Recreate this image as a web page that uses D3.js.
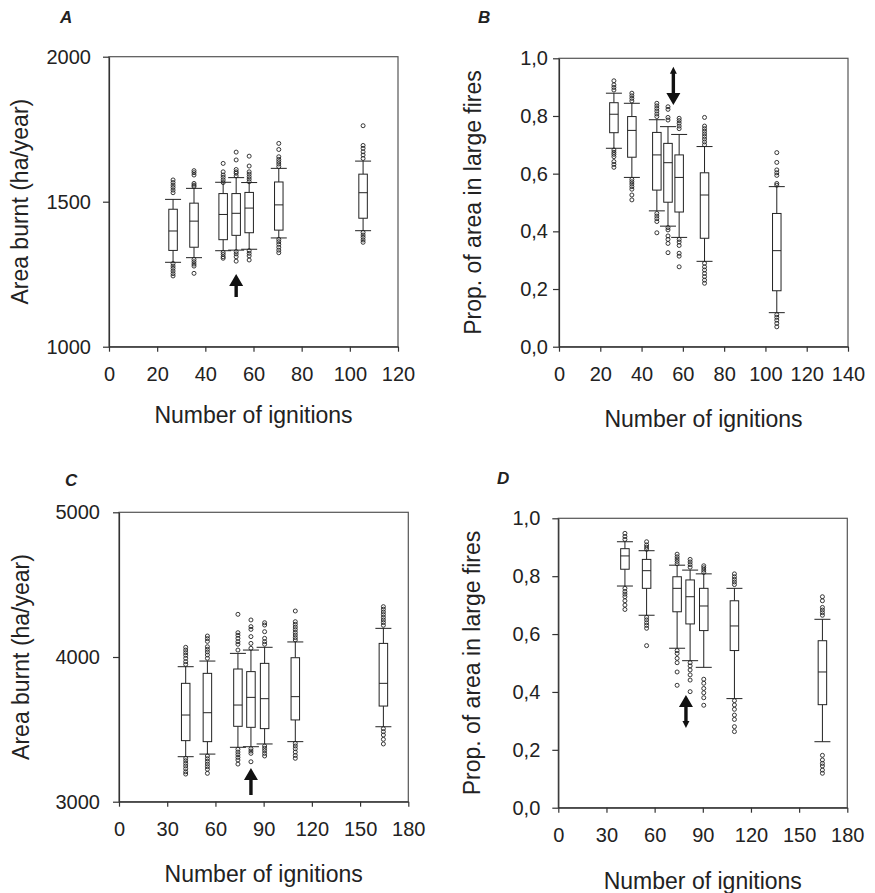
<!DOCTYPE html>
<html>
  <head>
    <meta charset="utf-8">
    <title>Ignitions box plots</title>
    <script src="https://cdnjs.cloudflare.com/ajax/libs/d3/7.8.5/d3.min.js" charset="utf-8"></script>
    <style>
      body { margin: 0; background: #fff; }
      text { font-family: "Liberation Sans", Arial, sans-serif; fill: #222; }
    </style>
  </head>
  <body>
    <div id="chart"></div>
    <script>

// number of ignitions (box positions)
var ignAB = [26.6, 35.3, 47.4, 52.8, 58.2, 70.5, 105.5];
var ignCD = [41.5, 55.0, 74.0, 82.1, 90.6, 109.7, 164.5];

// A: area burnt
var aLow  = [1291, 1307, 1331, 1333, 1336, 1375, 1400];
var aQ1   = [1332, 1343, 1369, 1384, 1393, 1402, 1443];
var aMed  = [1399, 1433, 1456, 1460, 1478, 1489, 1531];
var aQ3   = [1474, 1495, 1528, 1528, 1532, 1568, 1595];
var aHigh = [1508, 1546, 1567, 1583, 1566, 1615, 1640];
var aOutHi = [
  [1575, 1566, 1557, 1549, 1540, 1531],
  [1607, 1600, 1592, 1563, 1557, 1552],
  [1632, 1603, 1592, 1584, 1575, 1566],
  [1671, 1644, 1611, 1603, 1598, 1589],
  [1657, 1623, 1603, 1595, 1586, 1578, 1569],
  [1701, 1680, 1655, 1646, 1638, 1630, 1621],
  [1762, 1694, 1684, 1672, 1661, 1649]
];
var aOutLo = [
  [1287, 1278, 1270, 1261, 1252, 1244],
  [1301, 1293, 1285, 1278, 1253],
  [1325, 1318, 1310, 1305],
  [1328, 1320, 1310, 1295],
  [1331, 1322, 1313, 1299],
  [1370, 1362, 1353, 1343, 1333, 1324],
  [1394, 1385, 1377, 1368, 1360]
];

// B: proportion in large fires
var bLow  = [0.688, 0.587, 0.471, 0.418, 0.379, 0.296, 0.118];
var bQ1   = [0.742, 0.657, 0.543, 0.501, 0.467, 0.376, 0.194];
var bMed  = [0.806, 0.750, 0.665, 0.638, 0.587, 0.526, 0.333];
var bQ3   = [0.846, 0.798, 0.743, 0.705, 0.665, 0.603, 0.462];
var bHigh = [0.879, 0.844, 0.787, 0.763, 0.736, 0.694, 0.555];
var bOutHi = [
  [0.922, 0.908, 0.899, 0.890],
  [0.879, 0.870, 0.861, 0.852],
  [0.844, 0.835, 0.826, 0.817, 0.807, 0.798],
  [0.832, 0.823, 0.795, 0.786],
  [0.792, 0.784, 0.775, 0.765, 0.756],
  [0.795, 0.765, 0.756, 0.747, 0.738, 0.729, 0.720, 0.710, 0.700],
  [0.673, 0.639, 0.613, 0.603, 0.594, 0.566, 0.560]
];
var bOutLo = [
  [0.682, 0.674, 0.667, 0.659, 0.642, 0.632, 0.622],
  [0.580, 0.572, 0.564, 0.555, 0.546, 0.526, 0.509],
  [0.462, 0.453, 0.444, 0.434, 0.395],
  [0.413, 0.405, 0.384, 0.372, 0.358, 0.326],
  [0.372, 0.363, 0.351, 0.324, 0.314, 0.277],
  [0.289, 0.277, 0.266, 0.254, 0.243, 0.231, 0.220],
  [0.111, 0.102, 0.092, 0.081, 0.069]
];

// C: area burnt
var cLow  = [3311, 3329, 3376, 3380, 3399, 3415, 3518];
var cQ1   = [3422, 3415, 3521, 3514, 3505, 3565, 3661];
var cMed  = [3599, 3615, 3668, 3721, 3712, 3726, 3818];
var cQ3   = [3818, 3887, 3917, 3899, 3956, 3995, 4094];
var cHigh = [3933, 3972, 4025, 4048, 4067, 4104, 4198];
var cOutHi = [
  [4067, 4048, 4030, 4012, 3991, 3968, 3949],
  [4145, 4127, 4108, 4071, 4053, 4035, 4014, 3991],
  [4295, 4168, 4150, 4129, 4106, 4088, 4048],
  [4256, 4210, 4191, 4141, 4094, 4060],
  [4237, 4221, 4175, 4129, 4106, 4088],
  [4318, 4244, 4226, 4207, 4189, 4170, 4152, 4134, 4118],
  [4348, 4330, 4311, 4293, 4274, 4256, 4238, 4219]
];
var cOutLo = [
  [3300, 3283, 3265, 3247, 3228, 3207, 3191],
  [3316, 3297, 3279, 3260, 3242, 3224, 3196],
  [3362, 3343, 3325, 3306, 3288, 3260],
  [3366, 3350, 3334, 3276],
  [3385, 3369, 3353, 3334, 3316],
  [3403, 3385, 3366, 3343, 3320, 3300],
  [3505, 3484, 3461, 3431, 3399]
];

// D: proportion in large fires
var dLow  = [0.766, 0.665, 0.551, 0.508, 0.485, 0.377, 0.228];
var dQ1   = [0.824, 0.758, 0.677, 0.635, 0.612, 0.543, 0.356];
var dMed  = [0.870, 0.819, 0.758, 0.729, 0.697, 0.628, 0.469];
var dQ3   = [0.895, 0.858, 0.798, 0.787, 0.758, 0.715, 0.577];
var dHigh = [0.919, 0.888, 0.838, 0.821, 0.808, 0.758, 0.651];
var dOutHi = [
  [0.948, 0.937, 0.927],
  [0.919, 0.908, 0.900, 0.893],
  [0.876, 0.867, 0.859, 0.851, 0.843],
  [0.858, 0.849, 0.840, 0.831],
  [0.836, 0.829, 0.821, 0.813],
  [0.808, 0.798, 0.789, 0.780, 0.771],
  [0.729, 0.715, 0.692, 0.683, 0.674, 0.665]
];
var dOutLo = [
  [0.758, 0.747, 0.738, 0.729, 0.715, 0.700, 0.685],
  [0.658, 0.649, 0.639, 0.630, 0.620, 0.560],
  [0.543, 0.533, 0.516, 0.501, 0.469, 0.423],
  [0.501, 0.490, 0.476, 0.459, 0.441, 0.401],
  [0.444, 0.430, 0.412, 0.397, 0.380, 0.354],
  [0.370, 0.355, 0.340, 0.320, 0.305, 0.280, 0.263],
  [0.181, 0.165, 0.153, 0.144, 0.130, 0.119]
];

// arrows: [ignitions, tail value, head value]
var arrowA = [52.8, 1171, 1251];
var arrowB = [55.4, 0.971, 0.838];
var arrowC = [82.1, 3046, 3233];
var arrowD = [79.5, 0.275, 0.389];

// tick values
var xTicksAB = [0, 20, 40, 60, 80, 100, 120];
var xTicksB  = [0, 20, 40, 60, 80, 100, 120, 140];
var xTicksCD = [0, 30, 60, 90, 120, 150, 180];
var yTicksA  = [1000, 1500, 2000];
var yTicksC  = [3000, 4000, 5000];
var yTicksP  = [0, 0.2, 0.4, 0.6, 0.8, 1.0];

var W = 875, H = 893;
var svg = d3.select("#chart").append("svg").attr("width", W).attr("height", H);

var commaFmt = function(d) { return d3.format(".1f")(d).replace(".", ","); };

var panels = [
  { letter: "A", lx: 60, ly: 23, left: 109, right: 398, top: 56.7, bottom: 346.7,
    xmax: 120, xt: xTicksAB, ymin: 1000, ymax: 2000, yt: yTicksA, fmt: d3.format("d"), ypad: 12,
    ytitle: "Area burnt (ha/year)", ytx: 20, xty: 422.5,
    ign: ignAB, low: aLow, q1: aQ1, med: aMed, q3: aQ3, high: aHigh, hi: aOutHi, lo: aOutLo,
    arrow: arrowA, tail: false },
  { letter: "B", lx: 478, ly: 23, left: 559, right: 848, top: 58.3, bottom: 346.7,
    xmax: 140, xt: xTicksB, ymin: 0, ymax: 1, yt: yTicksP, fmt: commaFmt, ypad: 5,
    ytitle: "Prop. of area in large fires", ytx: 473, xty: 427,
    ign: ignAB, low: bLow, q1: bQ1, med: bMed, q3: bQ3, high: bHigh, hi: bOutHi, lo: bOutLo,
    arrow: arrowB, tail: true },
  { letter: "C", lx: 65, ly: 486, left: 119, right: 408.3, top: 512.3, bottom: 801.7,
    xmax: 180, xt: xTicksCD, ymin: 3000, ymax: 5000, yt: yTicksC, fmt: d3.format("d"), ypad: 13,
    ytitle: "Area burnt (ha/year)", ytx: 21, xty: 881.5,
    ign: ignCD, low: cLow, q1: cQ1, med: cMed, q3: cQ3, high: cHigh, hi: cOutHi, lo: cOutLo,
    arrow: arrowC, tail: false },
  { letter: "D", lx: 497, ly: 484, left: 558.3, right: 847.3, top: 518.3, bottom: 807.7,
    xmax: 180, xt: xTicksCD, ymin: 0, ymax: 1, yt: yTicksP, fmt: commaFmt, ypad: 12,
    ytitle: "Prop. of area in large fires", ytx: 472, xty: 888.5,
    ign: ignCD, low: dLow, q1: dQ1, med: dMed, q3: dQ3, high: dHigh, hi: dOutHi, lo: dOutLo,
    arrow: arrowD, tail: true }
];

panels.forEach(drawPanel);

function drawPanel (p) {
    var g = svg.append("g");
    var x = d3.scaleLinear().domain([0, p.xmax]).range([p.left, p.right]);
    var y = d3.scaleLinear().domain([p.ymin, p.ymax]).range([p.bottom, p.top]);

    // frame
    g.append("rect")
        .attr("x", p.left).attr("y", p.top)
        .attr("width", p.right - p.left).attr("height", p.bottom - p.top)
        .attr("fill", "none").attr("stroke", "#555").attr("stroke-width", 1.2);

    var xa = g.append("g").attr("transform", "translate(0," + p.bottom + ")")
        .call(d3.axisBottom(x).tickValues(p.xt).tickSize(5).tickSizeOuter(0).tickPadding(15));
    var ya = g.append("g").attr("transform", "translate(" + p.left + ",0)")
        .call(d3.axisLeft(y).tickValues(p.yt).tickFormat(p.fmt).tickSize(6).tickSizeOuter(0).tickPadding(p.ypad));
    [xa, ya].forEach(function(a) {
        a.select(".domain").attr("stroke", "#333").attr("stroke-width", 1.2);
        a.selectAll(".tick line").attr("stroke", "#333").attr("stroke-width", 1.2);
        a.selectAll("text").attr("font-size", 20).attr("fill", "#222")
            .attr("font-family", "'Liberation Sans', Arial, sans-serif");
    });

    // titles
    g.append("text").attr("x", (p.left + p.right) / 2).attr("y", p.xty)
        .attr("text-anchor", "middle").attr("font-size", 23).text("Number of ignitions");
    g.append("text")
        .attr("transform", "translate(" + p.ytx + "," + (p.top + p.bottom) / 2 + ") rotate(-90)")
        .attr("text-anchor", "middle").attr("dy", "0.35em").attr("font-size", 23).text(p.ytitle);
    g.append("text").attr("x", p.lx).attr("y", p.ly)
        .attr("font-size", 17).attr("font-weight", "bold").attr("font-style", "italic").text(p.letter);

    var bw = 8.5, cw = 16;
    var boxes = g.selectAll(".box").data(p.ign).enter().append("g").attr("class", "box");

    boxes.each(function(n, i) {
        var b = d3.select(this), cx = x(n);
        var ln = function(x1, y1, x2, y2) {
            b.append("line").attr("x1", x1).attr("y1", y1).attr("x2", x2).attr("y2", y2)
                .attr("stroke", "#222").attr("stroke-width", 1);
        };
        ln(cx, y(p.q3[i]), cx, y(p.high[i]));
        ln(cx, y(p.q1[i]), cx, y(p.low[i]));
        ln(cx - cw / 2, y(p.high[i]), cx + cw / 2, y(p.high[i]));
        ln(cx - cw / 2, y(p.low[i]), cx + cw / 2, y(p.low[i]));
        b.append("rect").attr("x", cx - bw / 2).attr("y", y(p.q3[i]))
            .attr("width", bw).attr("height", y(p.q1[i]) - y(p.q3[i]))
            .attr("fill", "#fff").attr("stroke", "#222").attr("stroke-width", 1);
        ln(cx - bw / 2, y(p.med[i]), cx + bw / 2, y(p.med[i]));

        b.selectAll("circle").data(p.hi[i].concat(p.lo[i])).enter().append("circle")
            .attr("cx", cx).attr("cy", function(v) { return y(v); })
            .attr("r", 2).attr("fill", "none").attr("stroke", "#222").attr("stroke-width", 0.9);
    });

    // arrow (big head at the value end, small point at the tail for B and D)
    var ax = x(p.arrow[0]), yb = y(p.arrow[1]), yt = y(p.arrow[2]);
    var s = yt < yb ? -1 : 1;
    var hl = 12, hw = 7, sw = 1.7;
    var tl = p.tail ? 7 : 0;
    var path = d3.path();
    path.moveTo(ax - sw, yb + s * tl);
    path.lineTo(ax - sw, yt - s * hl);
    path.lineTo(ax - hw, yt - s * hl);
    path.lineTo(ax, yt);
    path.lineTo(ax + hw, yt - s * hl);
    path.lineTo(ax + sw, yt - s * hl);
    path.lineTo(ax + sw, yb + s * tl);
    if (p.tail) {
        path.lineTo(ax + 3.5, yb + s * tl);
        path.lineTo(ax, yb);
        path.lineTo(ax - 3.5, yb + s * tl);
    }
    path.closePath();
    g.append("path").attr("d", path.toString()).attr("fill", "#111");
}

    </script>
  </body>
</html>
